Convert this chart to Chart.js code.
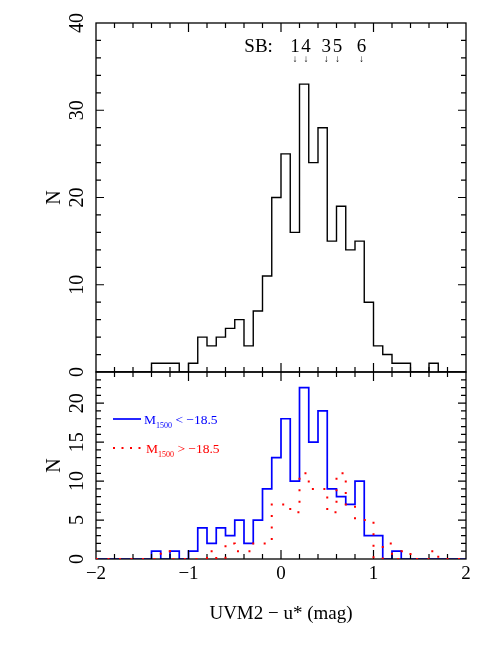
<!DOCTYPE html>
<html>
<head>
<meta charset="utf-8">
<script src="https://cdn.jsdelivr.net/npm/chart.js@4.4.0/dist/chart.umd.min.js"></script>
<style>
  html, body { margin: 0; padding: 0; background: #fff; }
  #wrap { position: relative; width: 480px; height: 659px; }
  canvas { position: absolute; left: 0; top: 0; }
</style>
</head>
<body>
<div id="wrap">
  <canvas id="topChart" width="480" height="659"></canvas>
  <canvas id="bottomChart" width="480" height="659"></canvas>
</div>
<script>
// histogram bins (left edges), 0.1 mag wide
const binLeft = [-2.0, -1.9, -1.8, -1.7, -1.6, -1.5, -1.4, -1.3, -1.2, -1.1,
                 -1.0, -0.9, -0.8, -0.7, -0.6, -0.5, -0.4, -0.3, -0.2, -0.1,
                  0.0,  0.1,  0.2,  0.3,  0.4,  0.5,  0.6,  0.7,  0.8,  0.9,
                  1.0,  1.1,  1.2,  1.3,  1.4,  1.5,  1.6,  1.7,  1.8,  1.9];
const binEnd = 2.0;

// all galaxies (top panel)
const allCounts = [0, 0, 0, 0, 0, 0, 1, 1, 1, 0,
                   1, 4, 3, 4, 5, 6, 3, 7, 11, 20,
                   25, 16, 33, 24, 28, 15, 19, 14, 15, 8,
                   3, 2, 1, 1, 0, 0, 1, 0, 0, 0];
// M1500 < -18.5 (blue)
const brightCounts = [0, 0, 0, 0, 0, 0, 1, 0, 1, 0,
                      1, 4, 2, 4, 3, 5, 2, 5, 9, 13,
                      18, 10, 22, 15, 19, 9, 8, 7, 10, 3,
                      3, 0, 1, 0, 0, 0, 0, 0, 0, 0];
// M1500 > -18.5 (red)
const faintCounts = [0, 0, 0, 0, 0, 0, 0, 1, 0, 0,
                     0, 0, 1, 0, 2, 1, 1, 2, 2, 7,
                     7, 6, 11, 9, 9, 6, 11, 7, 5, 5,
                     0, 2, 0, 1, 0, 0, 1, 0, 0, 0];

const xTicks = [-2, -1, 0, 1, 2];
const topYTicks = [0, 10, 20, 30, 40];
const bottomYTicks = [0, 5, 10, 15, 20];

// starburst colours marked with arrows
const sbNames = ['1', '4', '3', '5', '6'];
const sbColours = [0.15, 0.27, 0.49, 0.61, 0.87];

const legendTails = [' < \u221218.5', ' > \u221218.5'];

const serif = 'Liberation Serif';

function toSteps(counts) {
  const pts = binLeft.map((x, i) => ({ x: x, y: counts[i] }));
  pts.push({ x: binEnd, y: 0 });
  return pts;
}

function minus(v) {
  return v < 0 ? '\u2212' + Math.abs(v) : String(v);
}

// frame with inward ticks on all four sides
const framePlugin = {
  id: 'frame',
  afterDatasetDraw(chart, args, opts) {
    if (args.index !== opts.after) return;
    const { ctx, chartArea: a } = chart;
    const x = chart.scales.x, y = chart.scales.y;
    ctx.save();
    ctx.strokeStyle = '#000';
    ctx.lineWidth = 1.3;
    ctx.strokeRect(a.left, a.top, a.right - a.left, a.bottom - a.top);
    ctx.lineWidth = 1.2;
    ctx.beginPath();
    let n = Math.round((x.max - x.min) / opts.xMinor);
    for (let i = 1; i < n; i++) {
      const v = x.min + i * opts.xMinor;
      const px = x.getPixelForValue(v);
      const len = Math.abs(v / opts.xMajor - Math.round(v / opts.xMajor)) < 1e-6 ? 9 : 5;
      ctx.moveTo(px, a.bottom); ctx.lineTo(px, a.bottom - len);
      ctx.moveTo(px, a.top); ctx.lineTo(px, a.top + len);
    }
    n = Math.floor((y.max - y.min) / opts.yMinor + 1e-6);
    for (let i = 1; i <= n; i++) {
      const v = y.min + i * opts.yMinor;
      if (v >= y.max) break;
      const py = y.getPixelForValue(v);
      const len = Math.abs(v / opts.yMajor - Math.round(v / opts.yMajor)) < 1e-6 ? 8 : 5;
      ctx.moveTo(a.left, py); ctx.lineTo(a.left + len, py);
      ctx.moveTo(a.right, py); ctx.lineTo(a.right - len, py);
    }
    ctx.stroke();
    ctx.restore();
  }
};

// SB: 1 4 3 5 6 with small arrows
const sbPlugin = {
  id: 'sbMarks',
  afterDraw(chart) {
    const { ctx, chartArea: a } = chart;
    const x = chart.scales.x;
    ctx.save();
    ctx.fillStyle = '#000';
    ctx.textBaseline = 'alphabetic';
    ctx.font = '19px "' + serif + '"';
    ctx.textAlign = 'right';
    ctx.fillText('SB:', x.getPixelForValue(sbColours[0]) - 22, a.top + 29);
    ctx.textAlign = 'center';
    sbNames.forEach((s, i) => {
      ctx.font = '19px "' + serif + '"';
      ctx.fillText(s, x.getPixelForValue(sbColours[i]), a.top + 29);
      ctx.font = '10px "' + serif + '"';
      ctx.fillText('\u2193', x.getPixelForValue(sbColours[i]), a.top + 39);
    });
    ctx.restore();
  }
};

// legend of the lower panel, M with subscript 1500
const legendPlugin = {
  id: 'magLegend',
  afterDraw(chart) {
    const { ctx, chartArea: a } = chart;
    const sets = chart.data.datasets;
    const rows = [sets[1], sets[0]];
    ctx.save();
    rows.forEach((ds, i) => {
      const yLine = a.top + 47 + i * 29;
      ctx.strokeStyle = ds.borderColor;
      ctx.lineWidth = ds.borderWidth;
      ctx.setLineDash(i === 0 ? [] : [2, 6.5]);
      ctx.beginPath();
      ctx.moveTo(a.left + 17, yLine);
      ctx.lineTo(a.left + 45, yLine);
      ctx.stroke();
      ctx.fillStyle = ds.borderColor;
      ctx.textAlign = 'left';
      ctx.textBaseline = 'alphabetic';
      let tx = a.left + 48 + i * 2;
      ctx.font = '13.5px "' + serif + '"';
      ctx.fillText('M', tx, yLine + 4.5);
      tx += ctx.measureText('M').width;
      ctx.font = '8px "' + serif + '"';
      ctx.fillText('1500', tx, yLine + 9);
      tx += ctx.measureText('1500').width;
      ctx.font = '13.5px "' + serif + '"';
      ctx.fillText(legendTails[i], tx, yLine + 4.5);
    });
    ctx.restore();
  }
};

function yAxis(max, ticks) {
  return {
    type: 'linear',
    min: 0,
    max: max,
    afterBuildTicks: s => { s.ticks = ticks.map(v => ({ value: v })); },
    afterFit: s => { s.width = 53; },
    grid: { display: false, drawTicks: false },
    border: { display: false },
    ticks: {
      minRotation: 90, maxRotation: 90, crossAlign: 'center', padding: 8,
      color: '#000', font: { family: serif, size: 20 }
    },
    title: { display: true, text: 'N', color: '#000', padding: 0, font: { family: serif, size: 20 } }
  };
}

new Chart(document.getElementById('topChart'), {
  type: 'line',
  data: {
    datasets: [{
      data: toSteps(allCounts),
      stepped: 'before',
      borderColor: '#000',
      borderWidth: 1.4,
      pointRadius: 0,
      fill: false
    }]
  },
  options: {
    responsive: false,
    animation: false,
    devicePixelRatio: 1,
    layout: { padding: { left: 43, right: 14, top: 23, bottom: 287 } },
    plugins: {
      legend: { display: false },
      tooltip: { enabled: false },
      frame: { after: 0, xMinor: 0.2, xMajor: 1, yMinor: 2, yMajor: 10 }
    },
    scales: {
      x: { type: 'linear', min: -2, max: 2, display: false },
      y: yAxis(40, topYTicks)
    }
  },
  plugins: [framePlugin, sbPlugin]
});

new Chart(document.getElementById('bottomChart'), {
  type: 'line',
  data: {
    datasets: [{
      data: toSteps(faintCounts),
      stepped: 'before',
      borderColor: '#ff0000',
      borderWidth: 2,
      borderDash: [2, 9.5],
      pointRadius: 0,
      fill: false
    }, {
      data: toSteps(brightCounts),
      stepped: 'before',
      borderColor: '#0000ff',
      borderWidth: 1.7,
      pointRadius: 0,
      fill: false
    }]
  },
  options: {
    responsive: false,
    animation: false,
    devicePixelRatio: 1,
    layout: { padding: { left: 43, right: 14, top: 372, bottom: 30 } },
    plugins: {
      legend: { display: false },
      tooltip: { enabled: false },
      frame: { after: 1, xMinor: 0.2, xMajor: 1, yMinor: 1, yMajor: 5 }
    },
    scales: {
      x: {
        type: 'linear', min: -2, max: 2,
        afterBuildTicks: s => { s.ticks = xTicks.map(v => ({ value: v })); },
        afterFit: s => { s.height = 70; },
        grid: { display: false, drawTicks: false },
        border: { display: false },
        ticks: {
          padding: 4, maxRotation: 0, color: '#000',
          font: { family: serif, size: 19 },
          callback: v => minus(v)
        },
        title: {
          display: true, text: 'UVM2 \u2212 u* (mag)', color: '#000',
          padding: { top: 0, bottom: 4 }, font: { family: serif, size: 19 }
        }
      },
      y: yAxis(24, bottomYTicks)
    }
  },
  plugins: [framePlugin, legendPlugin]
});
</script>
</body>
</html>
